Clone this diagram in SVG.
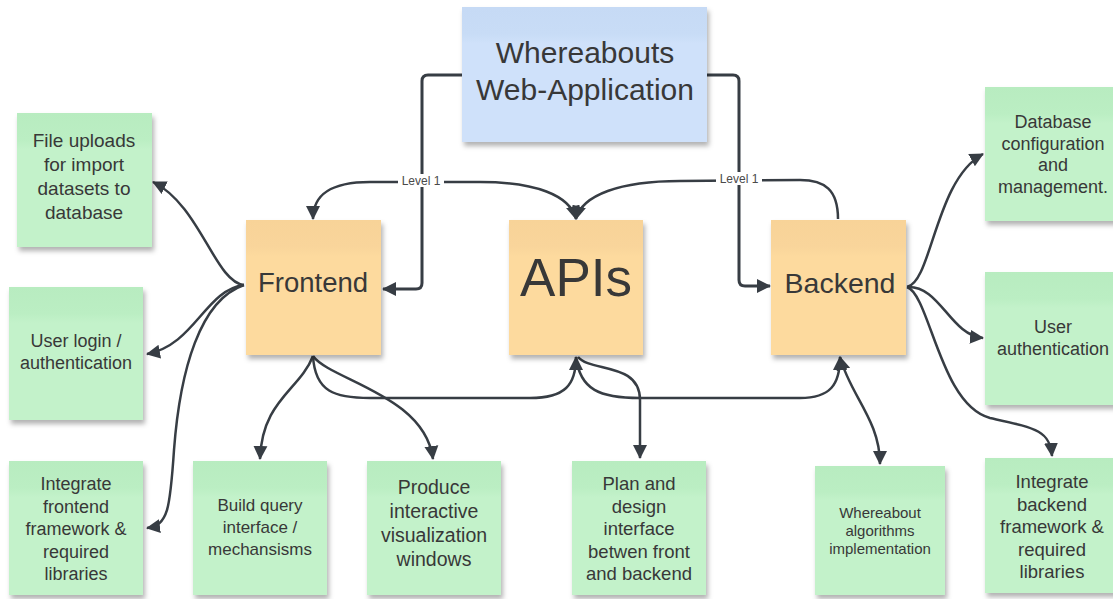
<svg xmlns="http://www.w3.org/2000/svg" width="1113" height="599" viewBox="0 0 1113 599">
<defs>
<linearGradient id="gGreen" x1="0" y1="0" x2="0" y2="1">
<stop offset="0" stop-color="#b8ecc0"/><stop offset="0.2" stop-color="#bbeec3"/><stop offset="0.27" stop-color="#c3f2ca"/><stop offset="1" stop-color="#c3f2ca"/>
</linearGradient>
<linearGradient id="gOrange" x1="0" y1="0" x2="0" y2="1">
<stop offset="0" stop-color="#f8d398"/><stop offset="0.2" stop-color="#f9d59b"/><stop offset="0.27" stop-color="#fdda9e"/><stop offset="1" stop-color="#fdda9e"/>
</linearGradient>
<linearGradient id="gBlue" x1="0" y1="0" x2="0" y2="1">
<stop offset="0" stop-color="#c6daf5"/><stop offset="0.2" stop-color="#c8dcf6"/><stop offset="0.27" stop-color="#cfe1fa"/><stop offset="1" stop-color="#cfe1fa"/>
</linearGradient>
<filter id="sh" x="-10%" y="-10%" width="130%" height="130%">
<feDropShadow dx="2" dy="4" stdDeviation="2.5" flood-color="#000" flood-opacity="0.3"/>
</filter>
<marker id="ah" markerUnits="userSpaceOnUse" markerWidth="16" markerHeight="16" refX="13" refY="7" orient="auto-start-reverse" viewBox="0 0 16 14">
<path d="M0,0 L14,7 L0,14 z" fill="#373d44"/>
</marker>
</defs>
<style>
.g{fill:url(#gGreen);filter:url(#sh)}
.o{fill:url(#gOrange);filter:url(#sh)}
.b{fill:url(#gBlue);filter:url(#sh)}
text{font-family:"Liberation Sans",Arial,sans-serif;fill:#383838;text-anchor:middle}
.c{fill:none;stroke:#373d44;stroke-width:2.5}
.t{stroke-width:3}
.ce{marker-end:url(#ah)}
.cs{marker-start:url(#ah)}
.lbl{font-size:12px;fill:#4a4a4a}
</style>

<g id="connectors">
<path class="c t ce" d="M462 75 L428 75 Q422 75 422 81 L422 283 Q422 289 416 289 L383 289"/>
<path class="c t ce" d="M707 75 L733 75 Q739 75 739 81 L739 280 Q739 286 745 286 L770 286"/>
<path class="c cs ce" d="M313 219 C313 195 330 182 370 182 L480 182 C535 182 570 195 576 219"/>
<path class="c ce" d="M838 219 C838 190 825 180 800 180 L680 181 C620 181 582 195 576 219"/>
<path class="c ce" d="M244 285 C215 282 200 205 153 182"/>
<path class="c ce" d="M244 285 C205 290 195 345 147 354"/>
<path class="c ce" d="M244 285 C200 300 180 370 174 450 C170 510 168 525 147 528"/>
<path class="c ce" d="M313 356 C300 390 262 400 260 459"/>
<path class="c ce" d="M313 356 C330 380 425 395 433 459"/>
<path class="c ce" d="M313 356 C315 392 335 398 370 398 L530 398 C565 398 576 385 576 357"/>
<path class="c ce" d="M576 357 C580 390 600 398 640 398 L800 398 C830 398 840 385 840 357"/>
<path class="c ce" d="M578 357 C590 372 640 362 640 400 L640 458"/>
<path class="c cs ce" d="M840 357 C850 395 880 420 880 464"/>
<path class="c ce" d="M907 287 C932 282 935 180 983 154"/>
<path class="c ce" d="M907 287 C940 285 950 335 983 338"/>
<path class="c ce" d="M907 287 C930 295 940 405 990 418 C1035 428 1050 430 1052 456"/>
<rect x="398" y="174" width="46" height="13" fill="#fff"/>
<text class="lbl" x="421" y="185">Level 1</text>
<rect x="716" y="172" width="46" height="13" fill="#fff"/>
<text class="lbl" x="739" y="183">Level 1</text>
</g>

<g id="title">
<rect class="b" x="462" y="7" width="245" height="135"/>
<text x="585" y="63" font-size="30">Whereabouts</text>
<text x="585" y="100" font-size="30">Web-Application</text>
</g>

<g id="frontend">
<rect class="o" x="246" y="220" width="135" height="135"/>
<text x="313" y="292" font-size="27.5">Frontend</text>
</g>
<g id="apis">
<rect class="o" x="509" y="220" width="134" height="135"/>
<text x="576" y="296" font-size="53">APIs</text>
</g>
<g id="backend">
<rect class="o" x="771" y="220" width="135" height="135"/>
<text x="840" y="293" font-size="28.5">Backend</text>
</g>

<g id="file-uploads">
<rect class="g" x="17" y="113" width="135" height="134"/>
<text font-size="19"><tspan x="84" y="147">File uploads</tspan><tspan x="84" y="171">for import</tspan><tspan x="84" y="195">datasets to</tspan><tspan x="84" y="219">database</tspan></text>
</g>
<g id="user-login">
<rect class="g" x="9" y="287" width="134" height="133"/>
<text font-size="18"><tspan x="76" y="347">User login /</tspan><tspan x="76" y="369">authentication</tspan></text>
</g>
<g id="integrate-frontend">
<rect class="g" x="9" y="461" width="134" height="134"/>
<text font-size="18"><tspan x="76" y="490">Integrate</tspan><tspan x="76" y="512.5">frontend</tspan><tspan x="76" y="535">framework &amp;</tspan><tspan x="76" y="557.5">required</tspan><tspan x="76" y="580">libraries</tspan></text>
</g>
<g id="build-query">
<rect class="g" x="193" y="461" width="134" height="134"/>
<text font-size="17"><tspan x="260" y="511">Build query</tspan><tspan x="260" y="533">interface /</tspan><tspan x="260" y="555">mechansisms</tspan></text>
</g>
<g id="produce">
<rect class="g" x="367" y="461" width="134" height="134"/>
<text font-size="19.5"><tspan x="434" y="494">Produce</tspan><tspan x="434" y="518">interactive</tspan><tspan x="434" y="542">visualization</tspan><tspan x="434" y="566">windows</tspan></text>
</g>
<g id="plan-design">
<rect class="g" x="572" y="461" width="134" height="134"/>
<text font-size="18.5"><tspan x="639" y="490">Plan and</tspan><tspan x="639" y="512.5">design</tspan><tspan x="639" y="535">interface</tspan><tspan x="639" y="557.5">betwen front</tspan><tspan x="639" y="580">and backend</tspan></text>
</g>
<g id="whereabout-algorithms">
<rect class="g" x="815" y="466" width="130" height="129"/>
<text font-size="15"><tspan x="880" y="518">Whereabout</tspan><tspan x="880" y="536">algorithms</tspan><tspan x="880" y="554">implementation</tspan></text>
</g>
<g id="integrate-backend">
<rect class="g" x="985" y="458" width="136" height="135"/>
<text font-size="18.5"><tspan x="1052" y="488">Integrate</tspan><tspan x="1052" y="510.5">backend</tspan><tspan x="1052" y="533">framework &amp;</tspan><tspan x="1052" y="555.5">required</tspan><tspan x="1052" y="578">libraries</tspan></text>
</g>
<g id="database-config">
<rect class="g" x="985" y="87" width="136" height="134"/>
<text font-size="18"><tspan x="1053" y="128">Database</tspan><tspan x="1053" y="149.5">configuration</tspan><tspan x="1053" y="171">and</tspan><tspan x="1053" y="192.5">management.</tspan></text>
</g>
<g id="user-authentication">
<rect class="g" x="985" y="272" width="136" height="133"/>
<text font-size="18"><tspan x="1053" y="333">User</tspan><tspan x="1053" y="355">authentication</tspan></text>
</g>
</svg>
